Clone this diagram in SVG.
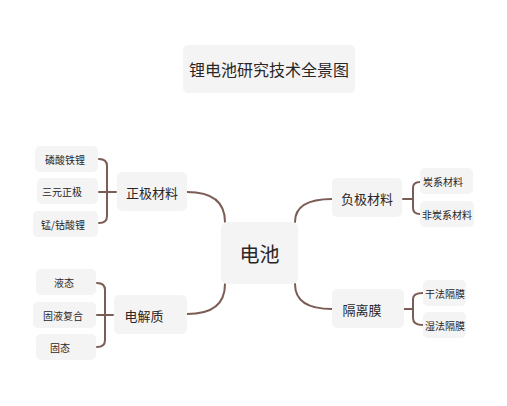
<svg xmlns="http://www.w3.org/2000/svg" width="507" height="406" viewBox="0 0 507 406">
<style>
.box{fill:#f5f4f4}
.t{font-family:"Noto Sans CJK SC","Noto Sans",sans-serif;fill:#2a2626;text-anchor:middle;dominant-baseline:central}
.title{font-size:16px}
.root{font-size:20px}
.main{font-size:13px}
.leaf{font-size:10px}
.ln{fill:none;stroke:#7b5d55;stroke-width:2;stroke-linecap:round}
</style>
<rect width="507" height="406" fill="#ffffff"/>
<g id="title"><rect class="box" x="183" y="45" width="172" height="48" rx="5"/><text class="t title" x="269" y="69">锂电池研究技术全景图</text></g>
<g id="connectors">
<path class="ln" d="M187,192 Q225,192 225,222"/>
<path class="ln" d="M187,314 Q225,314 225,284"/>
<path class="ln" d="M332,199 Q295,199 295,222"/>
<path class="ln" d="M332,309 Q295,309 295,284"/>
<path class="ln" d="M99,159 Q107,159 107,166 L107,216 Q107,223 99,223 M99,192 L116,192"/>
<path class="ln" d="M97,283 Q105,283 105,290 L105,340 Q105,347 97,347 M97,315 L113,315"/>
<path class="ln" d="M420,182 Q413,182 413,188 L413,208 Q413,214 420,214 M403,199 L413,199"/>
<path class="ln" d="M423,293 Q413,293 413,299 L413,318 Q413,325 423,325 M404,309 L413,309"/>
</g>
<g id="root"><rect class="box" x="221" y="222" width="77" height="62" rx="6"/><text class="t root" x="259.5" y="253">电池</text></g>
<g id="n-cathode"><rect class="box" x="117" y="172" width="70" height="39" rx="5"/><text class="t main" x="152" y="192">正极材料</text></g>
<g id="n-electrolyte"><rect class="box" x="114" y="295" width="73" height="39" rx="5"/><text class="t main" x="144" y="315">电解质</text></g>
<g id="n-anode"><rect class="box" x="332" y="178" width="70" height="39" rx="5"/><text class="t main" x="367" y="198">负极材料</text></g>
<g id="n-separator"><rect class="box" x="332" y="289" width="72" height="39" rx="5"/><text class="t main" x="362" y="309">隔离膜</text></g>
<g id="l1"><rect class="box" x="35" y="146" width="63" height="26" rx="5"/><text class="t leaf" x="65" y="159">磷酸铁锂</text></g>
<g id="l2"><rect class="box" x="37" y="178" width="61" height="26" rx="5"/><text class="t leaf" x="62" y="191">三元正极</text></g>
<g id="l3"><rect class="box" x="33" y="211" width="65" height="26" rx="5"/><text class="t leaf" x="63" y="224">锰/钴酸锂</text></g>
<g id="l4"><rect class="box" x="36" y="269" width="60" height="26" rx="5"/><text class="t leaf" x="64" y="282">液态</text></g>
<g id="l5"><rect class="box" x="33" y="302" width="63" height="26" rx="5"/><text class="t leaf" x="63" y="315">固液复合</text></g>
<g id="l6"><rect class="box" x="36" y="334" width="60" height="26" rx="5"/><text class="t leaf" x="60" y="347">固态</text></g>
<g id="l7"><rect class="box" x="420" y="168" width="53" height="26" rx="5"/><text class="t leaf" x="443" y="181">炭系材料</text></g>
<g id="l8"><rect class="box" x="420" y="201" width="54" height="26" rx="5"/><text class="t leaf" x="447" y="214">非炭系材料</text></g>
<g id="l9"><rect class="box" x="423" y="280" width="43" height="26" rx="5"/><text class="t leaf" x="445" y="293">干法隔膜</text></g>
<g id="l10"><rect class="box" x="423" y="312" width="43" height="26" rx="5"/><text class="t leaf" x="445" y="325">湿法隔膜</text></g>
</svg>
